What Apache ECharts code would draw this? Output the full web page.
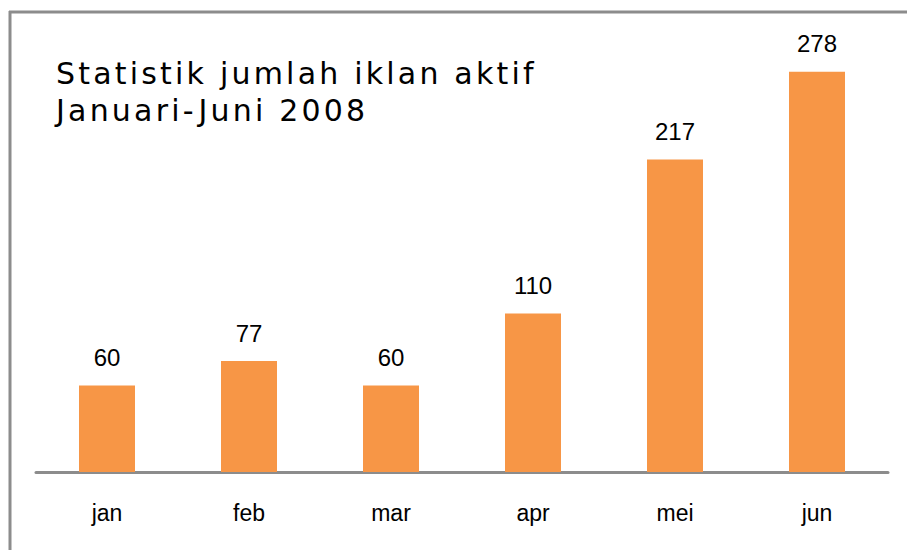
<!DOCTYPE html>
<html>
<head>
<meta charset="utf-8">
<title>Statistik jumlah iklan aktif</title>
<script src="https://cdn.jsdelivr.net/npm/echarts@6/dist/echarts.min.js"></script>
<style>
  html, body { margin: 0; padding: 0; background: #fff; }
  #chart { width: 907px; height: 550px; }
  /* title only: spread the letters like the original */
  #chart text[style*="DejaVu"] { letter-spacing: 3.2px; }
</style>
</head>
<body>
<div id="chart"></div>
<script>
var months = ['jan', 'feb', 'mar', 'apr', 'mei', 'jun'];
var iklanAktif = [60, 77, 60, 110, 217, 278];

var chart = echarts.init(document.getElementById('chart'), null, { renderer: 'svg' });

chart.setOption({
  backgroundColor: '#fff',
  animation: false,
  title: {
    text: 'Statistik jumlah iklan aktif\nJanuari-Juni 2008',
    left: 51,
    top: 50,
    textStyle: {
      fontFamily: 'DejaVu Sans',
      fontSize: 30,
      fontWeight: 'normal',
      lineHeight: 37,
      color: '#000'
    }
  },
  graphic: [
    // frame lines (top and left)
    { type: 'line', shape: { x1: 9, y1: 12, x2: 907, y2: 12 }, style: { stroke: '#8c8c8c', lineWidth: 3 } },
    { type: 'line', shape: { x1: 10, y1: 11, x2: 10, y2: 550 }, style: { stroke: '#8c8c8c', lineWidth: 3 } }
  ],
  grid: {
    left: 36,
    right: 19,
    top: 40,
    bottom: 78
  },
  xAxis: {
    type: 'category',
    data: months,
    axisTick: { show: false },
    axisLine: { lineStyle: { color: '#8c8c8c', width: 3 } },
    axisLabel: {
      margin: 29,
      fontFamily: 'Liberation Sans',
      fontSize: 23,
      color: '#000'
    }
  },
  yAxis: {
    type: 'value',
    min: 0,
    max: 300,
    show: false,
    splitLine: { show: false }
  },
  series: [{
    name: 'iklan aktif',
    type: 'bar',
    data: iklanAktif,
    barWidth: 56,
    itemStyle: { color: '#f79646' },
    label: {
      show: true,
      position: 'top',
      distance: 16,
      fontFamily: 'Liberation Sans',
      fontSize: 24,
      color: '#000'
    }
  }]
});
</script>
</body>
</html>
